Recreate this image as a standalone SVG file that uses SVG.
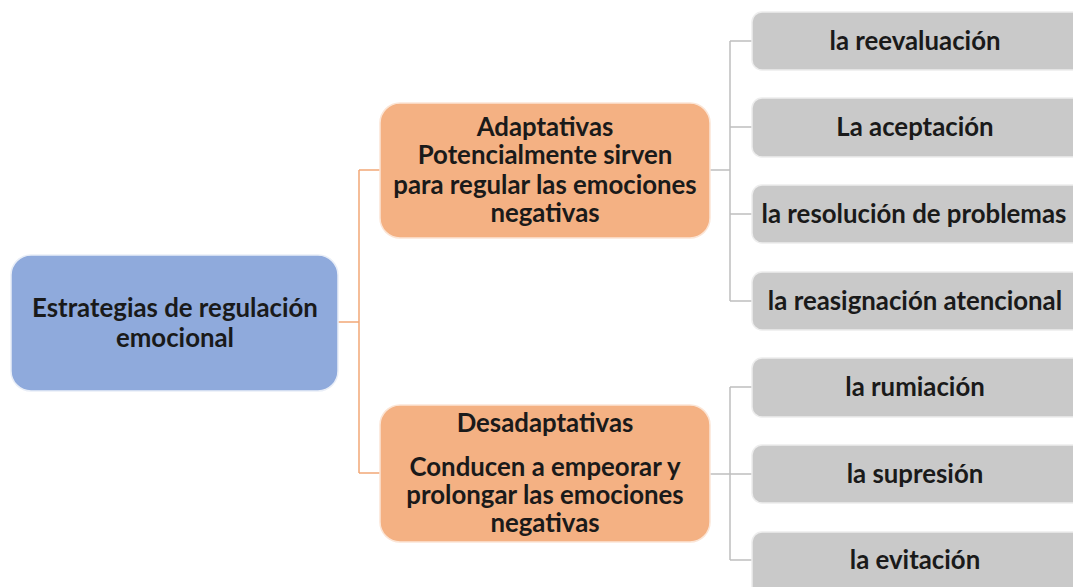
<svg xmlns="http://www.w3.org/2000/svg" width="1073" height="587" viewBox="0 0 1073 587">
<style>
.t{font-family:Lato,"Open Sans","Liberation Sans",sans-serif;font-weight:bold;font-size:25.8px;fill:#1a1a1a;text-anchor:middle}
.blue{fill:#8FAADC;stroke:#E9EEF7;stroke-width:1.5}
.orange{fill:#F4B183;stroke:#FBE5D6;stroke-width:1.5}
.gray{fill:#C9C9C9;stroke:#EDEDED;stroke-width:1.5}
.co{fill:none;stroke:#F2A877;stroke-width:1.5}
.cg{fill:none;stroke:#BFBFBF;stroke-width:1.5}
</style>
<rect width="1073" height="587" fill="#ffffff"/>
<g id="connectors">
<path class="co" d="M338,322 H359 M359,170 V473 M359,170 H380 M359,473 H380"/>
<path class="cg" d="M710,170 H730 M730,41 V301 M730,41 H752 M730,127 H752 M730,214 H752 M730,301 H752"/>
<path class="cg" d="M710,474 H730 M730,387 V560 M730,387 H752 M730,474 H752 M730,560 H752"/>
</g>
<g id="root">
<rect class="blue" x="11" y="255" width="327" height="136" rx="20"/>
<text class="t" x="175" y="317">Estrategias de regulación</text>
<text class="t" x="175" y="347">emocional</text>
</g>
<g id="adaptativas">
<rect class="orange" x="380" y="103" width="330" height="135" rx="20"/>
<text class="t" x="545" y="136">Adaptativas</text>
<text class="t" x="545" y="164">Potencialmente sirven</text>
<text class="t" x="545" y="194">para regular las emociones</text>
<text class="t" x="545" y="222">negativas</text>
</g>
<g id="desadaptativas">
<rect class="orange" x="380" y="405" width="330" height="137" rx="20"/>
<text class="t" x="545" y="432">Desadaptativas</text>
<text class="t" x="545" y="476">Conducen a empeorar y</text>
<text class="t" x="545" y="504">prolongar las emociones</text>
<text class="t" x="545" y="532">negativas</text>
</g>
<g id="reevaluacion">
<rect class="gray" x="752" y="12" width="330" height="58" rx="10"/>
<text class="t" x="915" y="50">la reevaluación</text>
</g>
<g id="aceptacion">
<rect class="gray" x="752" y="98" width="330" height="59" rx="10"/>
<text class="t" x="915" y="136">La aceptación</text>
</g>
<g id="resolucion">
<rect class="gray" x="752" y="185" width="330" height="58" rx="10"/>
<text class="t" x="914" y="223">la resolución de problemas</text>
</g>
<g id="reasignacion">
<rect class="gray" x="752" y="272" width="330" height="58" rx="10"/>
<text class="t" x="915" y="310">la reasignación atencional</text>
</g>
<g id="rumiacion">
<rect class="gray" x="752" y="358" width="330" height="59" rx="10"/>
<text class="t" x="915" y="396">la rumiación</text>
</g>
<g id="supresion">
<rect class="gray" x="752" y="445" width="330" height="58" rx="10"/>
<text class="t" x="915" y="483">la supresión</text>
</g>
<g id="evitacion">
<rect class="gray" x="752" y="532" width="330" height="70" rx="10"/>
<text class="t" x="915" y="569">la evitación</text>
</g>
</svg>
